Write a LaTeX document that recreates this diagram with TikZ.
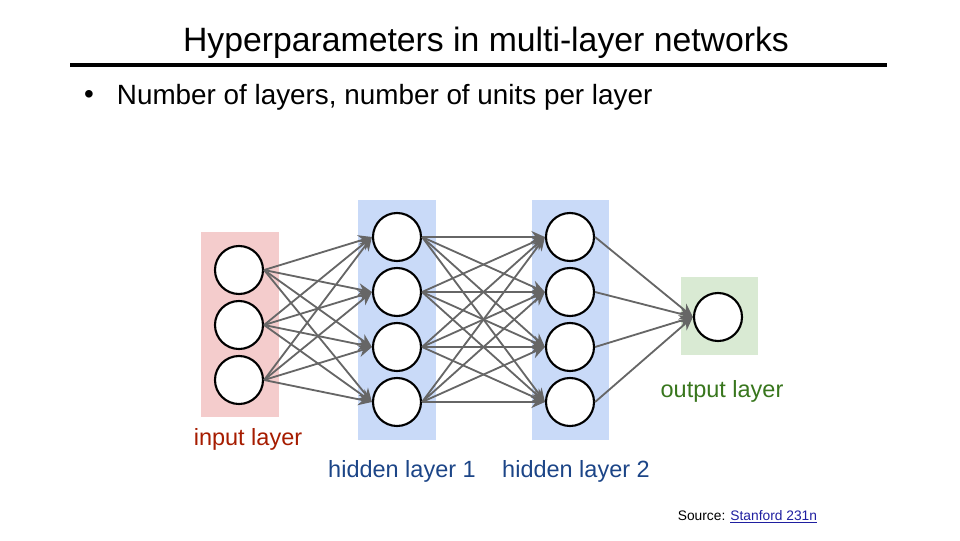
\documentclass[tikz,border=0pt]{standalone}
\usepackage{fontspec}
\setmainfont{Liberation Sans}
\usetikzlibrary{arrows.meta,positioning,backgrounds}
\definecolor{NetRed}{HTML}{F4CCCC}
\definecolor{NetBlue}{HTML}{C9DAF8}
\definecolor{NetGreen}{HTML}{D9EAD3}
\definecolor{NetRedText}{HTML}{A61C00}
\definecolor{NetBlueText}{HTML}{1C4587}
\definecolor{NetGreenText}{HTML}{38761D}
\definecolor{NetGray}{HTML}{666666}
\definecolor{NetLink}{HTML}{1F1FA0}

\begin{document}
\begin{tikzpicture}[
    x=0.025cm, y=-0.025cm,
    unit/.style={
      circle,
      draw=black,
      fill=white,
      line width=1.5pt,
      minimum size=1.2cm,
      inner sep=0pt
    },
    link/.style={
      -{Stealth[length=3.4mm,width=3mm]},
      line width=1.3pt,
      draw=NetGray
    },
    layerlabel/.style={
      font=\fontsize{16.7}{19}\selectfont,
      anchor=center
    }]

    \useasboundingbox (0,0) rectangle (960,540);

    % Title and bullet
    \node (title) at (486,43) {\fontsize{24}{28}\selectfont Hyperparameters in multi-layer networks};
    \draw[line width=2.8pt] (70,65) -- (887,65);
    \node (dot) at (89,97) {\fontsize{19.8}{23}\selectfont \textbullet};
    \node[anchor=west] (bullet) at (112,97) {\fontsize{19.8}{23}\selectfont Number of layers, number of units per layer};

    % Layer units
    \foreach \k/\y in {1/270,2/325,3/380}
      \node[unit] (i\k) at (239,\y) {};
    \foreach \k/\y in {1/237,2/292,3/347,4/402} {
      \node[unit] (h\k) at (397,\y) {};
      \node[unit] (g\k) at (570,\y) {};
    }
    \node[unit] (o1) at (718,317) {};

    % Layer bands
    \begin{scope}[on background layer]
      \fill[NetRed] (201,232) rectangle (279,417);
      \fill[NetBlue] (358,200) rectangle (436,440);
      \fill[NetBlue] (532,200) rectangle (609,440);
      \fill[NetGreen] (681,277) rectangle (758,355);
    \end{scope}

    % Connections
    \foreach \a in {1,2,3}
      \foreach \b in {1,2,3,4}
        \draw[link] (i\a.east) -- (h\b.west);
    \foreach \a in {1,2,3,4}
      \foreach \b in {1,2,3,4}
        \draw[link] (h\a.east) -- (g\b.west);
    \foreach \a in {1,2,3,4}
      \draw[link] (g\a.east) -- (o1.west);

    % Layer labels
    \node[layerlabel,text=NetRedText] (inlabel) at (248,439) {input layer};
    \node[layerlabel,text=NetBlueText] (h1label) at (402,471) {hidden layer 1};
    \node[layerlabel,text=NetBlueText] (h2label) at (576,471) {hidden layer 2};
    \node[layerlabel,text=NetGreenText] (outlabel) at (722,391) {output layer};

    % Source
    \node[anchor=east] (source) at (822,517) {\fontsize{9.8}{11}\selectfont Source: {\color{NetLink}\underline{Stanford 231n}}};
  \end{tikzpicture}
\end{document}
